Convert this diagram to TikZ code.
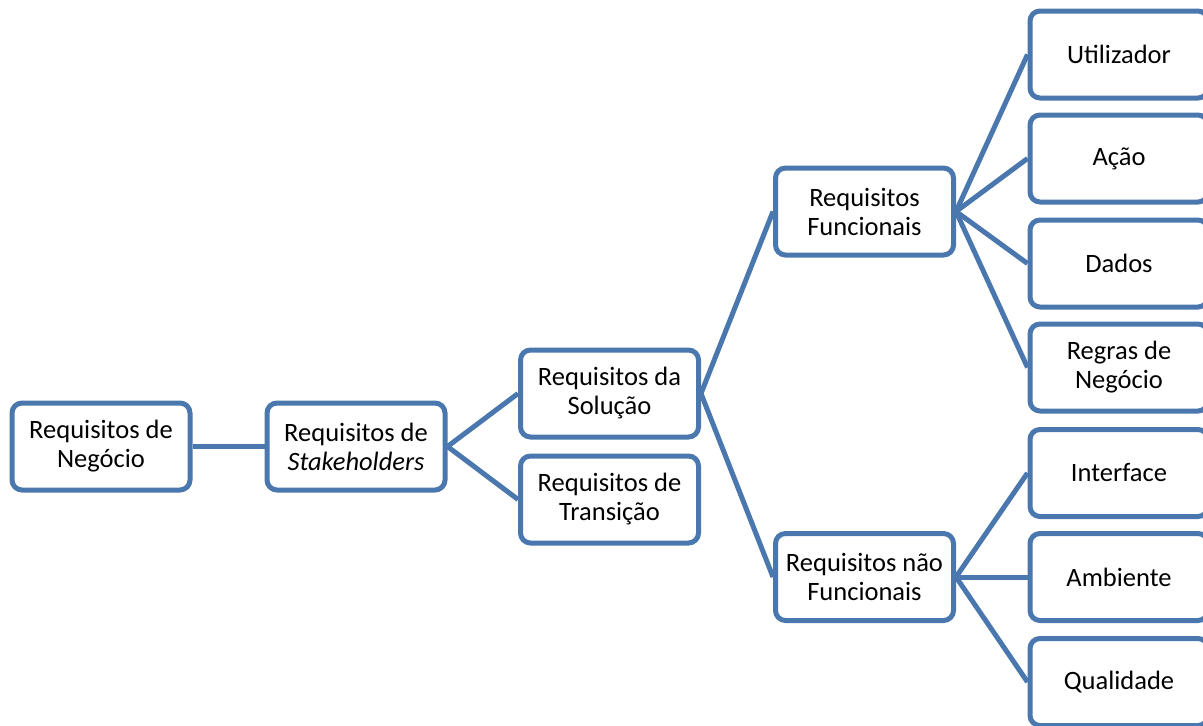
\documentclass[tikz,border=0pt]{standalone}
\usepackage{fontspec}
\setmainfont{Carlito}
\definecolor{boxblue}{RGB}{74,120,174}
\begin{document}
\begin{tikzpicture}[x=1pt,y=-1pt,
  box/.style={draw=boxblue, line width=5pt, rounded corners=10pt, fill=white,
    minimum width=178pt, minimum height=87pt, inner sep=2pt, align=center,
    font=\fontsize{26.5}{29}\selectfont},
  conn/.style={draw=boxblue, line width=5pt}]
\useasboundingbox (0,0) rectangle (1203,726);
\clip (0,0) rectangle (1203,726);
\node[box] (neg) at (101,446.5) {Requisitos de\\Negócio};
\node[box] (stk) at (356,446.5) {Requisitos de\\\textit{Stakeholders}};
\node[box] (sol) at (609.5,393.5) {Requisitos da\\Solução};
\node[box] (tra) at (609.5,499.5) {Requisitos de\\Transição};
\node[box] (fun) at (864.5,211.5) {Requisitos\\Funcionais};
\node[box] (nfu) at (864.5,577) {Requisitos não\\Funcionais};
\node[box] (uti) at (1119,54.5) {Utilizador};
\node[box] (aca) at (1119,158.5) {Ação};
\node[box] (dad) at (1119,263.5) {Dados};
\node[box] (reg) at (1119,367.5) {Regras de\\Negócio};
\node[box] (int) at (1119,473) {Interface};
\node[box] (amb) at (1119,577) {Ambiente};
\node[box] (qua) at (1119,682) {Qualidade};
\draw[conn] (neg.east) -- (stk.west);
\draw[conn] (stk.east) -- (sol.west);
\draw[conn] (stk.east) -- (tra.west);
\draw[conn] (sol.east) -- (fun.west);
\draw[conn] (sol.east) -- (nfu.west);
\foreach \c in {uti,aca,dad,reg} \draw[conn] (fun.east) -- (\c.west);
\foreach \c in {int,amb,qua} \draw[conn] (nfu.east) -- (\c.west);
\end{tikzpicture}
\end{document}
